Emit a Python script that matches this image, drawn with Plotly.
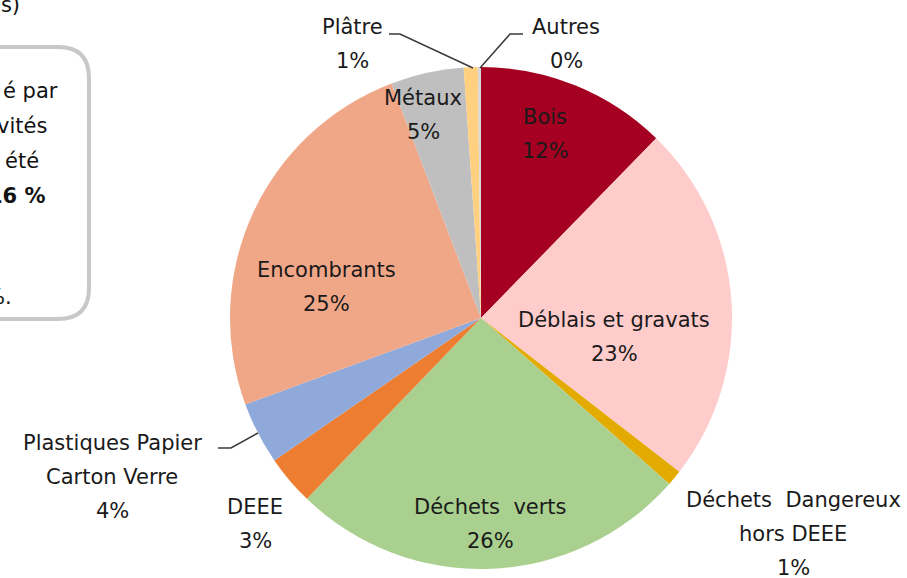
import plotly.graph_objects as go

W, H = 907, 578

categories = ["Bois", "Déblais et gravats", "Déchets Dangereux hors DEEE", "Déchets verts",
              "DEEE", "Plastiques Papier Carton Verre", "Encombrants", "Métaux", "Plâtre", "Autres"]
values = [12.3, 23.2, 1.0, 25.7, 3.2, 4.0, 24.8, 4.7, 0.9, 0.2]
pct_labels = ["12%", "23%", "1%", "26%", "3%", "4%", "25%", "5%", "1%", "0%"]
label_lines = [["Bois"], ["Déblais et gravats"], ["Déchets  Dangereux", "hors DEEE"], ["Déchets  verts"],
               ["DEEE"], ["Plastiques Papier", "Carton Verre"], ["Encombrants"], ["Métaux"], ["Plâtre"], ["Autres"]]
colors = ["#A50021", "#FFCCCC", "#E3AA00", "#A9D08E", "#ED7D31", "#8FA9DA", "#F0A788", "#BFBFBF", "#FFD07F", "#D9D9D9"]

# label anchor (pixel centres of first line)
label_pos = [(545, 117), (614, 320), (793, 500), (490, 507), (255, 507), (112, 443), (326, 270), (423, 98), (352, 27), (566, 27)]

cx, cy, r = 481, 318, 251

def px(x):
    return x / W

def py(y):
    return 1 - y / H

fig = go.Figure(go.Pie(
    labels=categories, values=values, sort=False, direction="clockwise", rotation=0,
    marker=dict(colors=colors, line=dict(width=0)),
    textinfo="none", hoverinfo="label+percent", showlegend=False,
    domain=dict(x=[px(cx - r), px(cx + r)], y=[py(cy + r), py(cy - r)]),
))

annotations = []
LS = 34
for lines, pct, (x, y) in zip(label_lines, pct_labels, label_pos):
    for i, t in enumerate(lines + [pct]):
        annotations.append(dict(x=px(x), y=py(y + i * LS), xref="paper", yref="paper", text=t,
                                showarrow=False, xanchor="center", yanchor="middle",
                                font=dict(family="DejaVu Sans", size=21, color="#1a1a1a")))

# left text box (partial, from the document)
side = [("es)", 22, 5, False), ("é par", 60, 91, False), ("vités", 49, 126, False), ("été", 41, 161, False),
        ("16 %", 48, 196, True), ("%.", 14, 297, False)]
for t, x, y, b in side:
    annotations.append(dict(x=px(x), y=py(y), xref="paper", yref="paper",
                            text=("<b>%s</b>" % t) if b else t, showarrow=False,
                            xanchor="right", yanchor="middle",
                            font=dict(family="DejaVu Sans", size=21, color="#111")))

shapes = [
    dict(type="path", xref="paper", yref="paper",
         path="M %f %f L %f %f Q %f %f %f %f L %f %f Q %f %f %f %f L %f %f" % (
             px(-20), py(47), px(58), py(47), px(89), py(47), px(89), py(78),
             px(89), py(288), px(89), py(319), px(58), py(319), px(-20), py(319)),
         line=dict(color="#C8C8C8", width=4)),
    # leader lines
    dict(type="path", xref="paper", yref="paper",
         path="M %f %f L %f %f L %f %f" % (px(389), py(34), px(400), py(34), px(473), py(68)),
         line=dict(color="#3a3a3a", width=1.5)),
    dict(type="path", xref="paper", yref="paper",
         path="M %f %f L %f %f L %f %f" % (px(480), py(68), px(510), py(34), px(523), py(34)),
         line=dict(color="#3a3a3a", width=1.5)),
    dict(type="path", xref="paper", yref="paper",
         path="M %f %f L %f %f L %f %f" % (px(218), py(448), px(231), py(448), px(258), py(433)),
         line=dict(color="#3a3a3a", width=1.5)),
]

fig.update_layout(width=W, height=H, margin=dict(l=0, r=0, t=0, b=0),
                  paper_bgcolor="white", plot_bgcolor="white",
                  annotations=annotations, shapes=shapes)

fig.write_html("out.html", config={"displayModeBar": False},
               post_script="document.body.style.margin='0';document.body.style.overflow='hidden';")
